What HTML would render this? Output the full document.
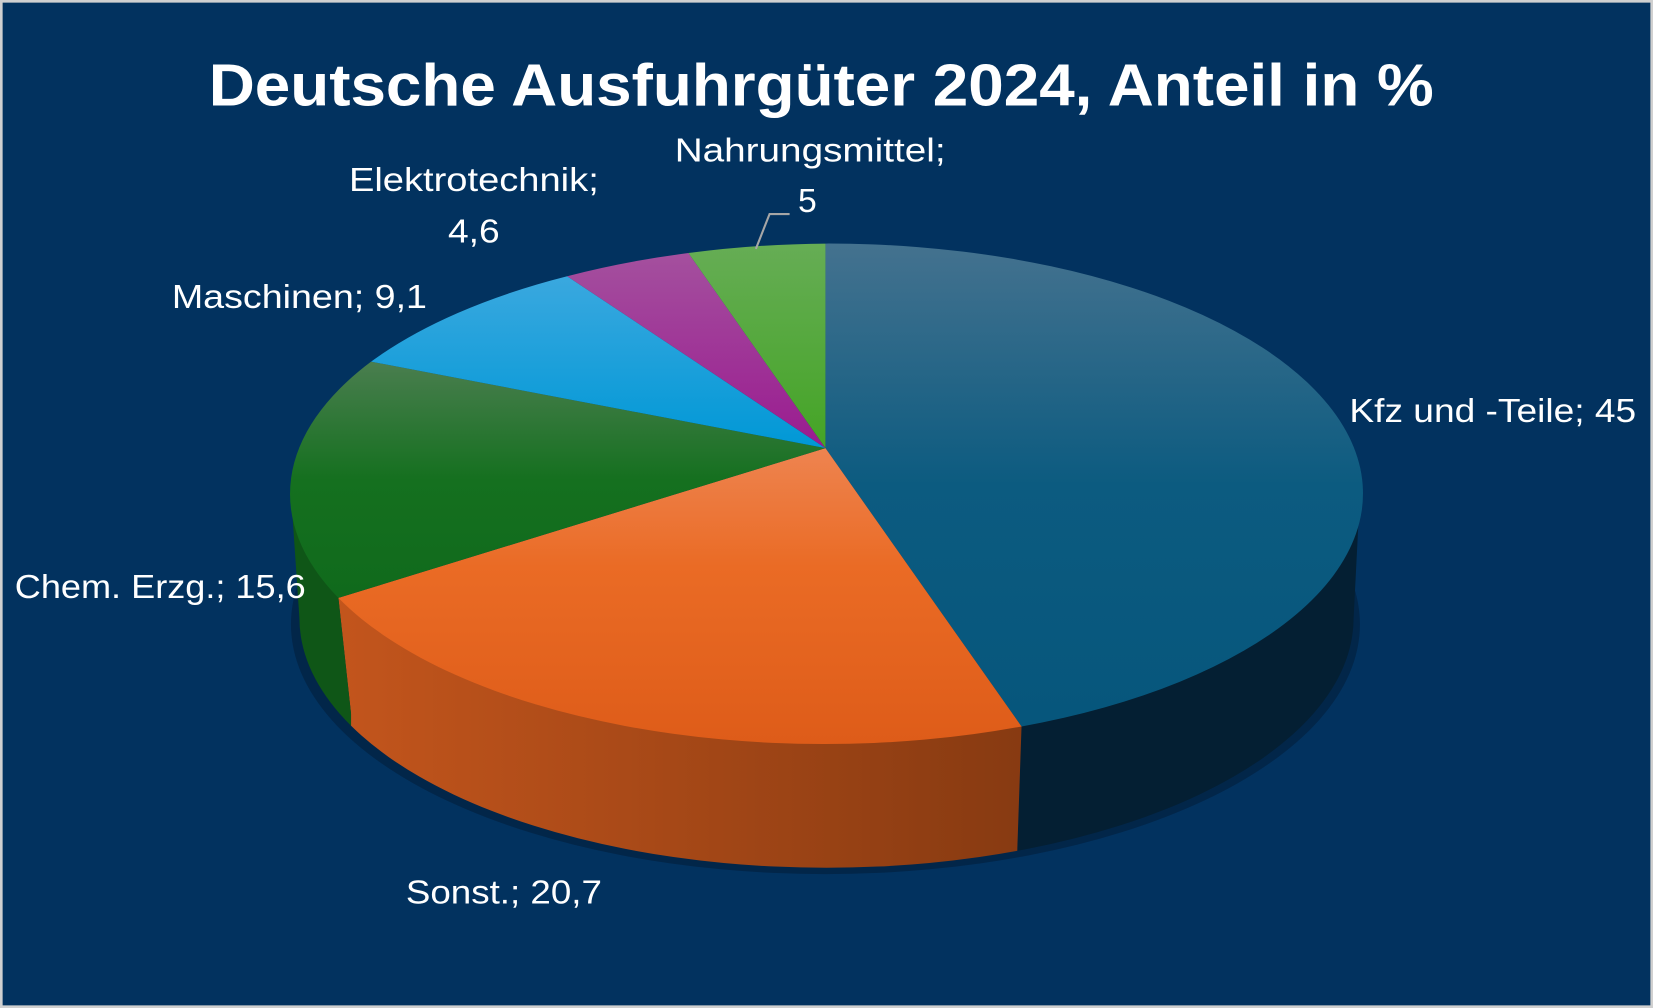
<!DOCTYPE html>
<html><head><meta charset="utf-8"><style>
html,body{margin:0;padding:0;background:#02325f;}
svg{display:block}
text{font-family:"Liberation Sans",sans-serif;fill:#fff}
</style></head><body>
<svg width="1653" height="1008" viewBox="0 0 1568 956" preserveAspectRatio="none" xmlns="http://www.w3.org/2000/svg">
<defs>
<linearGradient id="gb" x1="0" y1="0" x2="0" y2="1"><stop offset="0" stop-color="#44728f"/><stop offset="0.5" stop-color="#0c5b80"/><stop offset="1" stop-color="#06567c"/></linearGradient>
<linearGradient id="go" x1="0" y1="0" x2="0" y2="1"><stop offset="0" stop-color="#ee8450"/><stop offset="0.4" stop-color="#ea6b25"/><stop offset="1" stop-color="#de5c19"/></linearGradient>
<linearGradient id="gg" x1="0" y1="0" x2="0" y2="1"><stop offset="0" stop-color="#4a7e4f"/><stop offset="0.5" stop-color="#15701f"/><stop offset="1" stop-color="#106a1c"/></linearGradient>
<linearGradient id="gc" x1="0" y1="0" x2="0" y2="1"><stop offset="0" stop-color="#3aa8df"/><stop offset="1" stop-color="#0098d6"/></linearGradient>
<linearGradient id="gm" x1="0" y1="0" x2="0" y2="1"><stop offset="0" stop-color="#a4509e"/><stop offset="1" stop-color="#9a1b90"/></linearGradient>
<linearGradient id="gl" x1="0" y1="0" x2="0" y2="1"><stop offset="0" stop-color="#66ad55"/><stop offset="1" stop-color="#44a425"/></linearGradient>
<linearGradient id="gso" x1="0" y1="0" x2="1" y2="0"><stop offset="0" stop-color="#c7571d"/><stop offset="1" stop-color="#6a2d0c"/></linearGradient>
<clipPath id="cL"><polygon points="0,0 321,0 321,567 333,677 333,1000 0,1000"/></clipPath>
<clipPath id="cM"><polygon points="321,0 969,0 969,689 965,805 965,1000 333,1000 333,677 321,567"/></clipPath>
<clipPath id="cR"><polygon points="969,0 1600,0 1600,1000 965,1000 965,805 969,689"/></clipPath>
</defs>
<rect x="0" y="0" width="1568" height="956" fill="#02325f"/>
<rect x="1" y="1" width="1566" height="954" fill="none" stroke="#d0d0d0" stroke-width="3"/>
<text x="198" y="100" font-size="56" font-weight="bold" textLength="1162" lengthAdjust="spacingAndGlyphs">Deutsche Ausfuhrgüter 2024, Anteil in %</text>
<ellipse cx="783" cy="592" rx="507" ry="237" fill="#011a33" opacity="0.5"/>
<g>
<path d="M276,468 A507,237 0 0 0 1290,468 L1284,586 A500,237 0 0 1 284,586 Z" fill="#041f33" clip-path="url(#cR)"/>
<path d="M276,468 A507,237 0 0 0 1290,468 L1284,586 A500,237 0 0 1 284,586 Z" fill="url(#gso)" clip-path="url(#cM)"/>
<path d="M276,468 A507,237 0 0 0 1290,468 L1284,586 A500,237 0 0 1 284,586 Z" fill="#0f5617" clip-path="url(#cL)"/>
</g>
<path d="M783,425 L783,231 A507,237 0 0 1 969,689 Z" fill="url(#gb)"/>
<path d="M783,425 L969,689 A507,237 0 0 1 321,567 Z" fill="url(#go)"/>
<path d="M783,425 L321,567 A507,237 0 0 1 352,343 Z" fill="url(#gg)"/>
<path d="M783,425 L352,343 A507,237 0 0 1 538,262 Z" fill="url(#gc)"/>
<path d="M783,425 L538,262 A507,237 0 0 1 653,240 Z" fill="url(#gm)"/>
<path d="M783,425 L653,240 A507,237 0 0 1 783,231 Z" fill="url(#gl)"/>
<g font-size="32" lengthAdjust="spacingAndGlyphs">
<text x="1280" y="400" textLength="272" lengthAdjust="spacingAndGlyphs">Kfz und -Teile; 45</text>
<text x="385" y="857" textLength="186" lengthAdjust="spacingAndGlyphs">Sonst.; 20,7</text>
<text x="14" y="567" textLength="276" lengthAdjust="spacingAndGlyphs">Chem. Erzg.; 15,6</text>
<text x="163" y="292" textLength="242" lengthAdjust="spacingAndGlyphs">Maschinen; 9,1</text>
<text x="331" y="181" textLength="237" lengthAdjust="spacingAndGlyphs">Elektrotechnik;</text>
<text x="425" y="230" textLength="49" lengthAdjust="spacingAndGlyphs">4,6</text>
<text x="640" y="153" textLength="257" lengthAdjust="spacingAndGlyphs">Nahrungsmittel;</text>
<text x="757" y="201">5</text>
</g>
<polyline points="717,236 730,203 749,203" fill="none" stroke="#a6a6a6" stroke-width="2"/>
</svg>
</body></html>
